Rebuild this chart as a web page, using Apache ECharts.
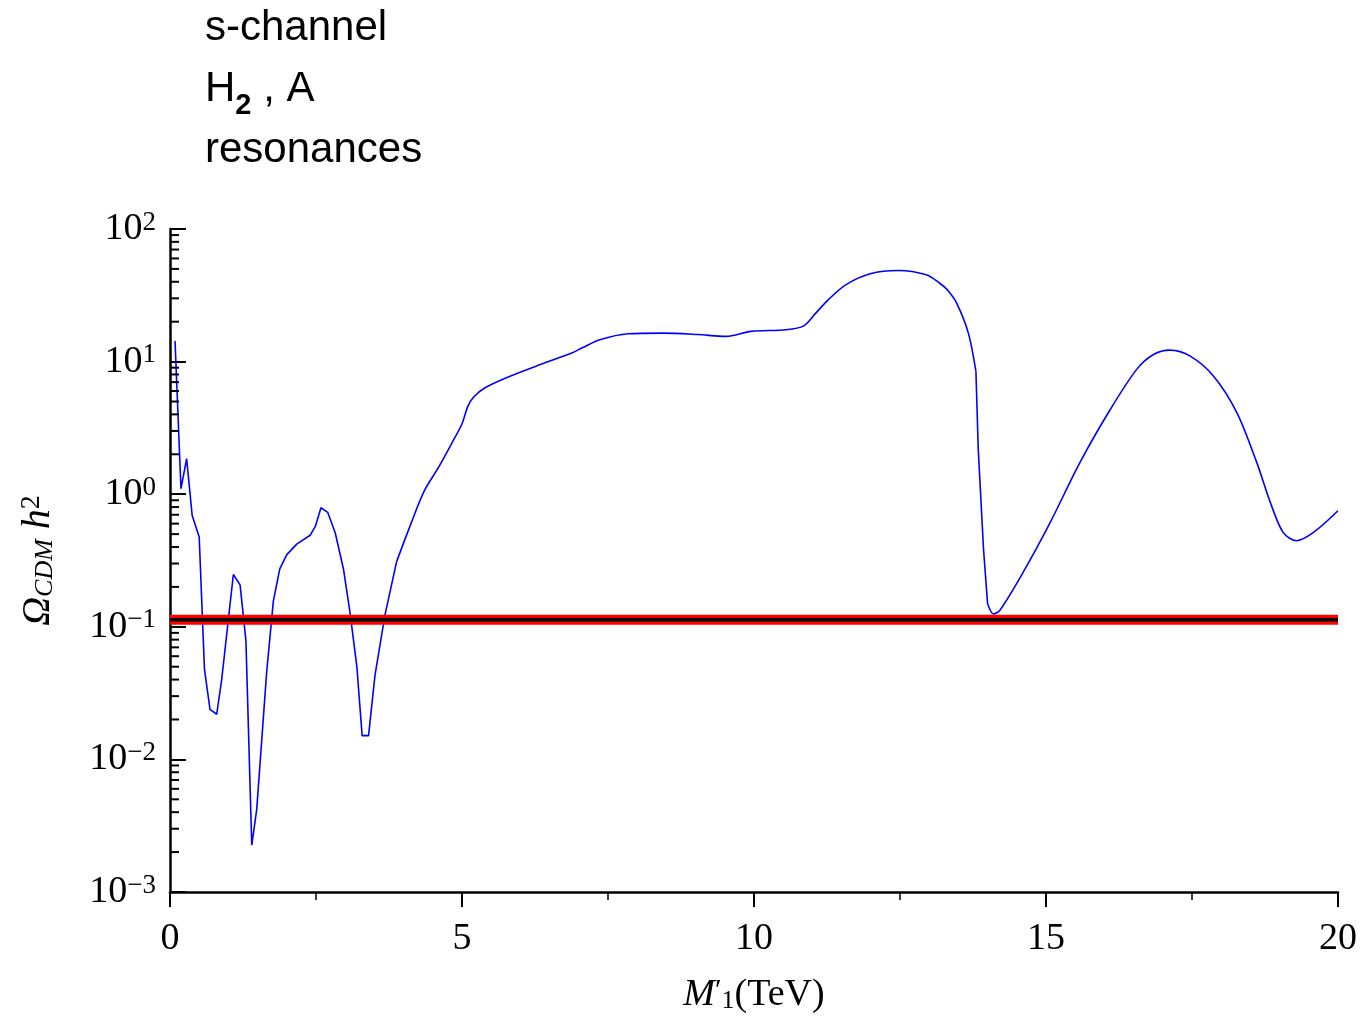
<!DOCTYPE html>
<html>
<head>
<meta charset="utf-8">
<script src="https://cdn.jsdelivr.net/npm/echarts@6/dist/echarts.min.js"></script>
<style>
  html, body { margin: 0; padding: 0; background: #fff; }
  #main { width: 1371px; height: 1019px; }
</style>
</head>
<body>
<div id="main"></div>
<script>
// M'_1 (TeV) and relic density
const mass = [
  0.086, 0.188, 0.285, 0.38, 0.50, 0.59, 0.685, 0.80, 0.885, 1.085,
  1.20, 1.30, 1.40, 1.485, 1.655, 1.77, 1.88, 2.0, 2.17, 2.40,
  2.49, 2.585, 2.70, 2.83, 2.97, 3.08, 3.20, 3.29, 3.40, 3.51,
  3.68, 3.88, 4.10, 4.35, 4.60, 4.82, 5.0, 5.1, 5.2, 5.38,
  5.74, 6.34, 6.88, 7.06, 7.36, 7.84, 8.44, 9.04, 9.52, 9.95,
  10.55, 10.85, 11.05, 11.27, 11.57, 11.99, 12.47, 12.95, 13.18, 13.31,
  13.47, 13.67, 13.80, 13.84, 13.93, 14.00, 14.10, 14.21, 14.61, 15.07,
  15.58, 16.10, 16.55, 16.84, 17.12, 17.47, 17.87, 18.27, 18.61, 18.84,
  19.06, 19.29, 19.58, 20.0
];
const omega = [
  14.3, 1.1, 1.85, 0.69, 0.475, 0.048, 0.0238, 0.0219, 0.040, 0.248,
  0.207, 0.079, 0.00226, 0.0042, 0.0454, 0.157, 0.273, 0.35, 0.42, 0.49,
  0.574, 0.79, 0.73, 0.51, 0.273, 0.13, 0.050, 0.0151, 0.0151, 0.043,
  0.122, 0.31, 0.56, 1.05, 1.6, 2.4, 3.4, 4.6, 5.4, 6.3,
  7.5, 9.5, 11.6, 12.7, 14.6, 16.2, 16.4, 16.0, 15.5, 16.9,
  17.4, 18.6, 23, 29.2, 37.9, 45.9, 48.6, 45.1, 39, 34.8,
  27.6, 16.4, 8.46, 2.18, 0.386, 0.149, 0.125, 0.133, 0.258, 0.61,
  1.73, 4.35, 8.7, 11.3, 12.2, 11.0, 7.76, 4.11, 1.73, 0.87,
  0.515, 0.446, 0.515, 0.75
];
// WMAP band
const relicValue = 0.113;
const xRange = [0, 20];
const yRange = [0.001, 100];
// straight segments on the jagged left part and on the steep drop, smoothed elsewhere
const pieces = [
  { from: 0, to: 3.88, smooth: false },
  { from: 3.88, to: 13.80, smooth: 0.3 },
  { from: 13.80, to: 14.00, smooth: false },
  { from: 14.00, to: 20, smooth: 0.3 }
];

// log minor tick values 2..9 x 10^d
const minorTickValues = [];
for (let d = -3; d <= 1; d++) {
  for (let m = 2; m <= 9; m++) minorTickValues.push([0, m * Math.pow(10, d)]);
}

const curve = mass.map((m, i) => [m, omega[i]]);
const band = [[xRange[0], relicValue], [xRange[1], relicValue]];

const curveSeries = pieces.map(pc => ({
  type: 'line',
  data: curve.filter(p => p[0] >= pc.from && p[0] <= pc.to),
  showSymbol: false,
  smooth: pc.smooth,
  lineStyle: { color: '#0000ff', width: 1.6 },
  z: 2
}));

const serif = 'Liberation Serif';
const chart = echarts.init(document.getElementById('main'));
chart.setOption({
  animation: false,
  title: {
    text: 's-channel\n{a|H}{s|2}{a| , A}\nresonances',
    left: 200,
    top: -7,
    textStyle: {
      fontFamily: 'Liberation Sans',
      fontSize: 42,
      fontWeight: 'normal',
      color: '#000',
      lineHeight: 61,
      rich: {
        a: { fontFamily: 'Liberation Sans', fontSize: 42, lineHeight: 61, color: '#000' },
        s: { fontFamily: 'Liberation Sans', fontSize: 29, fontWeight: 'bold', lineHeight: 36, verticalAlign: 'bottom', color: '#000' }
      }
    }
  },
  grid: { left: 170, right: 33, top: 229, bottom: 125 },
  xAxis: {
    type: 'value',
    min: xRange[0],
    max: xRange[1],
    interval: 5,
    axisLine: { lineStyle: { color: '#000', width: 2.5 } },
    axisTick: { length: 15, lineStyle: { color: '#000', width: 2 } },
    minorTick: { show: true, splitNumber: 2, length: 8, lineStyle: { color: '#000', width: 1.5 } },
    splitLine: { show: false },
    axisLabel: { color: '#000', fontFamily: serif, fontSize: 38, margin: 28 },
    name: "{i|M}{p|′}{sb|1}{r|(TeV)}",
    nameLocation: 'middle',
    nameGap: 84,
    nameTextStyle: {
      rich: {
        i: { fontFamily: serif, fontStyle: 'italic', fontSize: 38, color: '#000' },
        p: { fontFamily: serif, fontSize: 30, color: '#000', verticalAlign: 'top', lineHeight: 30 },
        sb: { fontFamily: serif, fontSize: 26, color: '#000', verticalAlign: 'bottom', lineHeight: 22 },
        r: { fontFamily: serif, fontSize: 38, color: '#000' }
      }
    }
  },
  yAxis: {
    type: 'log',
    logBase: 10,
    min: yRange[0],
    max: yRange[1],
    axisLine: { lineStyle: { color: '#000', width: 2.5 } },
    axisTick: { inside: true, length: 16, lineStyle: { color: '#000', width: 2 } },
    splitLine: { show: false },
    axisLabel: {
      margin: 14,
      formatter: function (v) {
        const e = Math.round(Math.log10(v));
        return '{b|10}{e|' + (e < 0 ? '−' + (-e) : e) + '}';
      },
      rich: {
        b: { fontFamily: serif, fontSize: 38, color: '#000', lineHeight: 40 },
        e: { fontFamily: serif, fontSize: 27, color: '#000', verticalAlign: 'top', lineHeight: 18 }
      }
    },
    name: '{o|Ω}{c|CDM}{h| h}{t|2}',
    nameLocation: 'middle',
    nameRotate: 90,
    nameGap: 112,
    nameTextStyle: {
      rich: {
        o: { fontFamily: serif, fontStyle: 'italic', fontSize: 40, color: '#000' },
        c: { fontFamily: serif, fontStyle: 'italic', fontSize: 26, color: '#000', verticalAlign: 'bottom', lineHeight: 22 },
        h: { fontFamily: serif, fontStyle: 'italic', fontSize: 40, color: '#000' },
        t: { fontFamily: serif, fontSize: 28, color: '#000', verticalAlign: 'top', lineHeight: 24 }
      }
    }
  },
  series: curveSeries.concat([
    {
      type: 'line',
      data: band,
      showSymbol: false,
      lineStyle: { color: '#ff0000', width: 10 },
      z: 3
    },
    {
      type: 'line',
      data: band,
      showSymbol: false,
      lineStyle: { color: '#000', width: 3.5 },
      z: 4
    },
    {
      type: 'custom',
      data: minorTickValues,
      clip: false,
      silent: true,
      z: 5,
      renderItem: function (params, api) {
        const p = api.coord([api.value(0), api.value(1)]);
        return {
          type: 'line',
          shape: { x1: p[0], y1: p[1], x2: p[0] + 9, y2: p[1] },
          style: { stroke: '#000', lineWidth: 2 }
        };
      }
    }
  ])
});
</script>
</body>
</html>
